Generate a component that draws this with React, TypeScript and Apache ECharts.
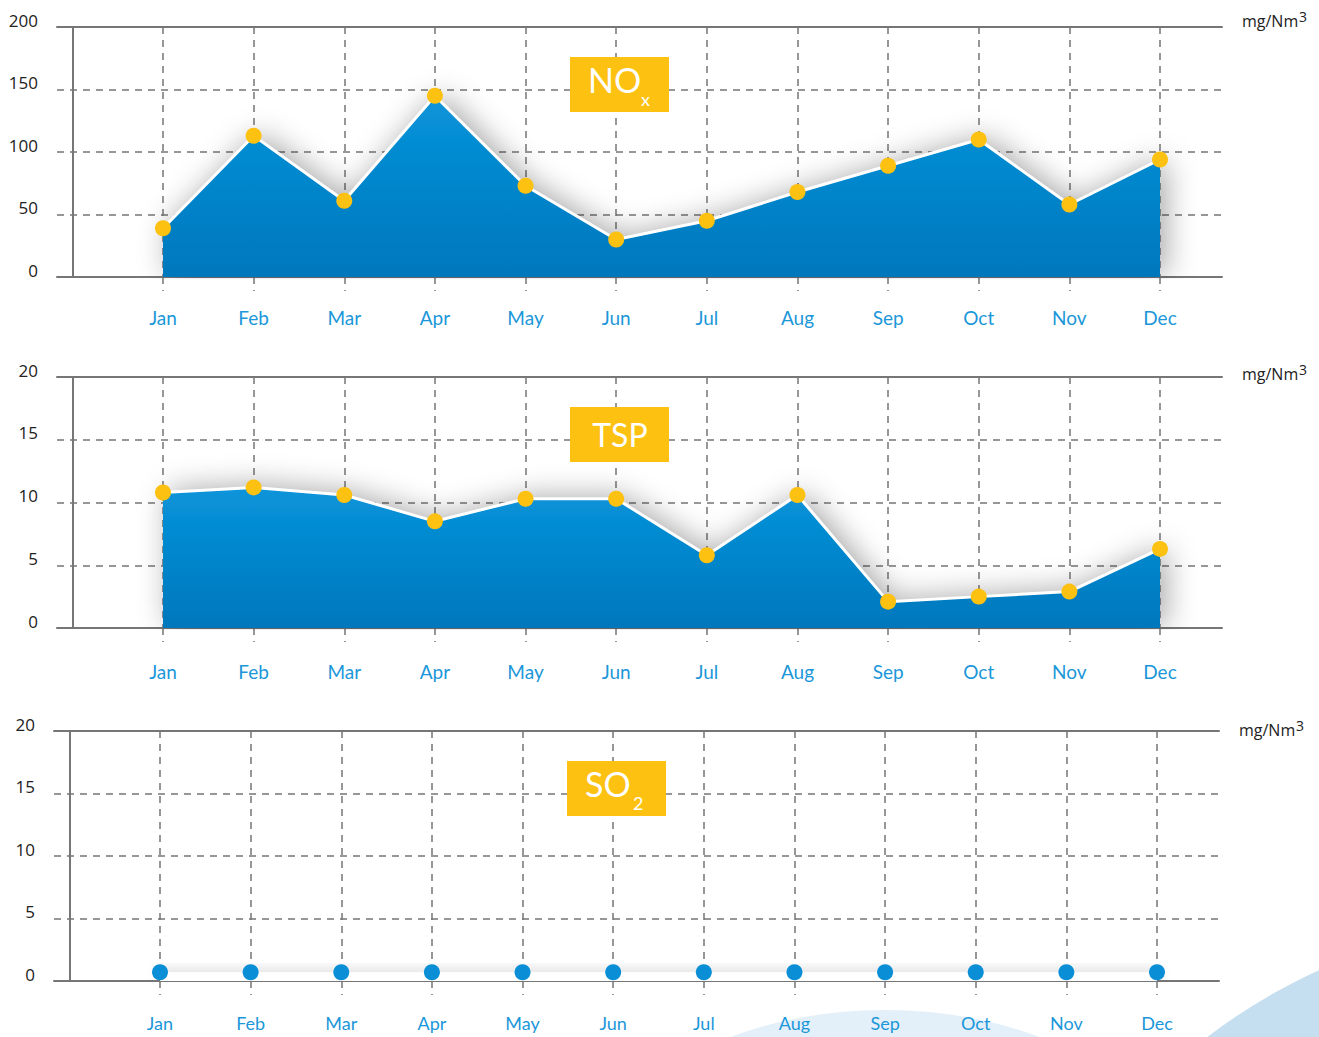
import React, { useEffect, useRef } from "react";
import * as echarts from "echarts";

const months = ["Jan", "Feb", "Mar", "Apr", "May", "Jun", "Jul", "Aug", "Sep", "Oct", "Nov", "Dec"];
const noxValues = [39, 113, 61, 145, 73, 30, 45, 68, 89, 110, 58, 94];
const tspValues = [10.8, 11.2, 10.6, 8.5, 10.3, 10.3, 5.8, 10.6, 2.1, 2.5, 2.9, 6.3];
const so2Values = [0.7, 0.7, 0.7, 0.7, 0.7, 0.7, 0.7, 0.7, 0.7, 0.7, 0.7, 0.7];
const noxTicks = { min: 0, max: 200, interval: 50 };
const tspTicks = { min: 0, max: 20, interval: 5 };
const so2Ticks = { min: 0, max: 20, interval: 5 };

const GRAY = "#767676";
const DASH = [7, 6];
const YELLOW = "#fdc112";
const BLUE_TXT = "#1b97d9";

export default function App() {
  const ref = useRef<HTMLDivElement>(null);
  useEffect(() => {
    document.body.style.margin = "0";
    const chart = echarts.init(ref.current!, null, { renderer: "svg" });
    const idx = months.map((_, i) => i);
    const grids = [
      { left: 57, right: 97, top: 27, height: 250 },
      { left: 57, right: 97, top: 377, height: 251 },
      { left: 54, right: 100, top: 731, height: 250 },
    ];
    const labelMargins = [31, 34, 33];
    const labelSizes = [19, 19, 18];
    const ranges = [noxTicks, tspTicks, so2Ticks];
    const xAxes: any[] = [];
    const yAxes: any[] = [];
    grids.forEach((_, g) => {
      xAxes.push({
        type: "value",
        gridIndex: g,
        min: -1.1695,
        max: 11.684,
        position: "bottom",
        axisLine: { show: true, onZero: false, lineStyle: { color: GRAY, width: 2 } },
        axisTick: { show: true, customValues: idx, length: 14, lineStyle: { color: GRAY, width: 1.5, type: DASH } },
        axisLabel: {
          show: true,
          customValues: idx,
          formatter: (v: number) => months[Math.round(v)],
          color: BLUE_TXT,
          fontSize: labelSizes[g],
          fontFamily: "Lato",
          margin: labelMargins[g],
        },
        splitLine: { show: true, lineStyle: { color: GRAY, width: 1.5, type: DASH } },
      });
      xAxes.push({
        type: "value",
        gridIndex: g,
        min: -1.1695,
        max: 11.684,
        position: "top",
        axisLine: { show: true, onZero: false, lineStyle: { color: GRAY, width: 2 } },
        axisTick: { show: false },
        axisLabel: { show: false },
        splitLine: { show: false },
      });
      yAxes.push({
        type: "value",
        gridIndex: g,
        min: ranges[g].min,
        max: ranges[g].max,
        interval: ranges[g].interval,
        position: "left",
        offset: -16,
        axisLine: { show: true, onZero: false, lineStyle: { color: GRAY, width: 2 } },
        axisTick: { show: false },
        axisLabel: {
          color: "#222",
          fontSize: 17,
          fontFamily: "Open Sans",
          margin: 35,
          verticalAlign: "bottom",
          lineHeight: 14,
        },
        splitLine: { show: true, lineStyle: { color: GRAY, width: 1.5, type: DASH } },
      });
    });

    const areaGrad = new echarts.graphic.LinearGradient(0, 0, 0, 1, [
      { offset: 0, color: "#0894da" },
      { offset: 1, color: "#0077bd" },
    ]);
    const filledSeries = (data: number[], g: number) => ({
      type: "line",
      xAxisIndex: g * 2,
      yAxisIndex: g,
      data: data.map((v, i) => [i, v]),
      symbol: "circle",
      symbolSize: 16,
      itemStyle: { color: YELLOW },
      lineStyle: { color: "#ffffff", width: 3 },
      areaStyle: {
        color: areaGrad,
        opacity: 1,
        shadowBlur: 30,
        shadowColor: "rgba(0,0,0,0.35)",
        shadowOffsetX: 6,
        shadowOffsetY: -2,
      },
      z: 3,
    });

    const title = (x: number, y: number, main: string, sub: string, subDx: number) => {
      const els: any[] = [
        { type: "rect", shape: { x, y, width: 99, height: 55 }, style: { fill: YELLOW }, z: 10 },
      ];
      if (sub) {
        els.push({
          type: "text",
          x: x + 18,
          y: y + 22,
          style: { text: main, fill: "#fff", font: "34px Lato", textVerticalAlign: "middle" },
          z: 11,
        });
        els.push({
          type: "text",
          x: x + subDx,
          y: y + 42,
          style: { text: sub, fill: "#fff", font: "18px Lato", textVerticalAlign: "middle" },
          z: 11,
        });
      } else {
        els.push({
          type: "text",
          x: x + 50,
          y: y + 27,
          style: { text: main, fill: "#fff", font: "32px Lato", textAlign: "center", textVerticalAlign: "middle" },
          z: 11,
        });
      }
      return els;
    };
    const unit = (x: number, y: number) => [
      { type: "text", x, y, style: { text: "mg/Nm", fill: "#222", font: "16px 'Open Sans'", textVerticalAlign: "middle" }, z: 11 },
      { type: "text", x: x + 57, y: y - 5, style: { text: "3", fill: "#222", font: "14px 'Open Sans'", textVerticalAlign: "middle" }, z: 11 },
    ];

    chart.setOption({
      animation: false,
      backgroundColor: "#ffffff",
      grid: grids,
      xAxis: xAxes,
      yAxis: yAxes,
      graphic: [
        { type: "ellipse", shape: { cx: 885, cy: 1200, rx: 300, ry: 190 }, style: { fill: "#e4f0f9" }, z: -10, silent: true },
        { type: "circle", shape: { cx: 1560, cy: 1500, r: 582 }, style: { fill: "#c6dff0" }, z: -10, silent: true },
        ...title(570, 57, "NO", "x", 71),
        ...title(570, 407, "TSP", "", 0),
        ...title(567, 761, "SO", "2", 66),
        ...unit(1242, 21),
        ...unit(1242, 374),
        ...unit(1239, 730),
      ],
      series: [
        filledSeries(noxValues, 0),
        filledSeries(tspValues, 1),
        {
          type: "line",
          xAxisIndex: 4,
          yAxisIndex: 2,
          data: so2Values.map((v, i) => [i, v]),
          symbol: "circle",
          symbolSize: 16,
          itemStyle: { color: "#0a8ed6" },
          lineStyle: { width: 0, color: "#ffffff" },
          areaStyle: {
            color: "#ffffff",
            opacity: 1,
            shadowBlur: 14,
            shadowColor: "rgba(0,0,0,0.18)",
            shadowOffsetY: -2,
          },
          z: 3,
        },
      ],
    });
    return () => chart.dispose();
  }, []);
  return <div ref={ref} style={{ width: 1319, height: 1037 }} />;
}
